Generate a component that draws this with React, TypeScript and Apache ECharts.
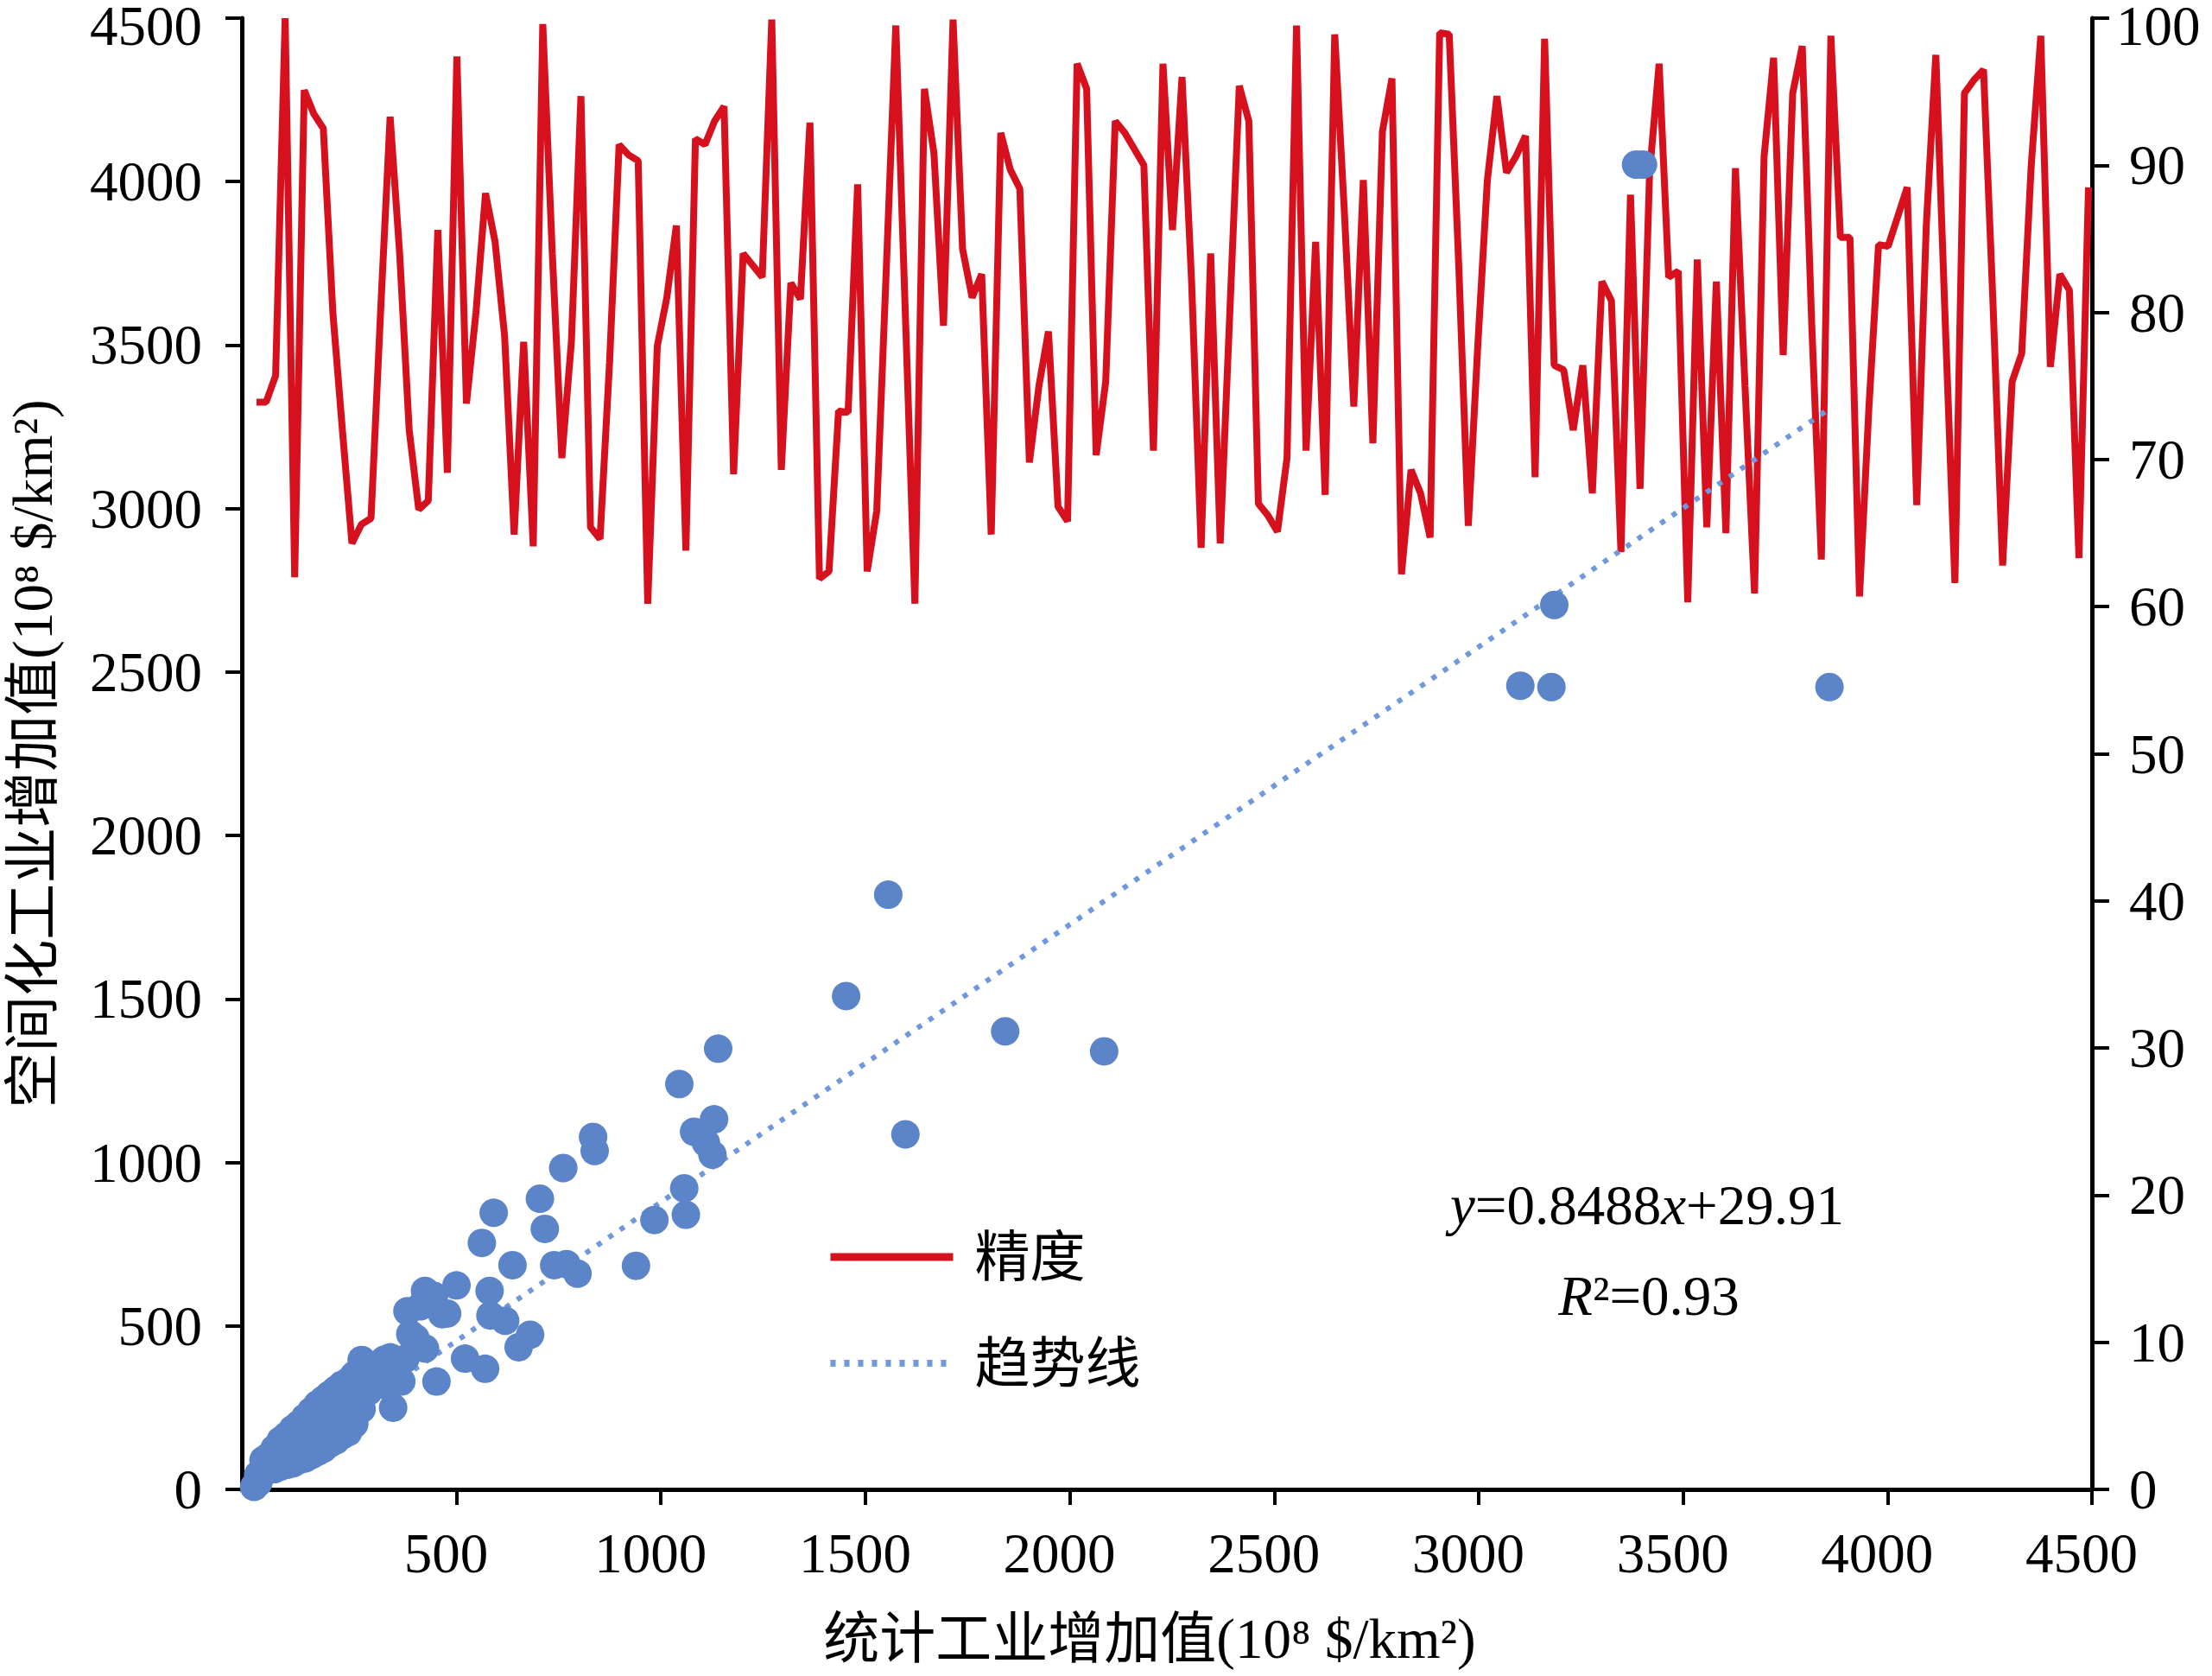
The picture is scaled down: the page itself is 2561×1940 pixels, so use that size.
import React, { useEffect, useRef } from "react";
import * as echarts from "echarts";

// 精度 (accuracy, right axis, %) — one value per region, evenly spaced
const accuracy = [
  73.9, 73.9, 75.7, 100, 62, 95.1, 93.5, 92.5, 80, 72, 64.3, 65.6, 66, 80, 93.3, 84, 72, 66.6, 67.2, 85.6,
  69.1, 97.4, 73.8, 80, 88.1, 84.8, 78.4, 64.9, 78, 64.1, 99.6, 84, 70.1, 78, 94.7,
  65.4, 64.6, 76.6, 91.4, 90.7, 90.3, 60.2, 77.7, 81, 85.9, 63.8, 91.8, 91.4, 93, 94, 69, 84, 83.2, 82.4,
  99.9, 69.3, 82, 80.9, 92.9, 61.9, 62.4, 73.3, 73.2, 88.7, 62.4, 66.5, 82.9, 99.5, 79.9, 60.2, 95.2, 90.8,
  79.1, 99.9,
  84.3, 81, 82.6, 64.9, 92.2, 89.7, 88.4, 69.8, 75, 78.7, 66.8, 65.8, 96.9, 95.2, 70.3, 75.3, 93, 92.2, 91.1,
  90, 70.6, 96.9, 85.6, 96, 82.1, 64, 84, 64.3, 79.9, 95.4, 93, 67, 66.2, 65.1, 70.1, 99.5, 70.6, 84.8, 67.6,
  98.9, 87, 73.6,
  89, 71.1, 92.3, 95.9, 62.2, 69.3, 67.7, 64.7, 99, 98.9, 83.2, 65.5, 77.8, 89, 94.7, 89.5, 90.6, 92, 68.8,
  98.6, 76.4, 76.1, 72, 76.4, 67.7, 82.1, 80.8, 63.7, 88, 68, 89.5, 96.9, 82.4, 82.8, 60.3, 83.6, 65.4,
  82.1, 65, 89.8, 75, 60.9, 90.6, 97.3, 77.1, 94.9, 98.1, 79.1, 63.2, 98.8, 85.1, 85.1, 60.7, 73.7, 84.6,
  84.5, 86.5, 88.5, 66.9, 85.9, 97.5, 79.1, 61.6, 94.9, 95.8, 96.5, 80.5, 62.8, 75.3, 77.2, 90, 98.8, 76.3,
  82.6, 81.5, 63.3, 88.5,
];

// [统计工业增加值, 空间化工业增加值] per region
const scatterPoints = [
  [5, 8], [15, 20], [15, 45], [28, 50], [28, 90], [40, 60], [40, 100], [55, 62], [55, 95], [55, 125],
  [70, 70], [70, 110], [70, 150], [85, 75], [85, 120], [85, 165], [100, 80], [100, 130], [100, 185],
  [115, 90], [115, 145], [115, 200], [130, 95], [130, 160], [130, 220], [145, 105], [145, 175], [145, 240],
  [160, 115], [160, 190], [160, 260], [175, 125], [175, 205], [175, 275], [190, 140], [190, 220], [190, 290],
  [205, 150], [205, 235], [205, 305], [220, 165], [220, 250], [220, 320], [235, 175], [235, 330],
  [250, 200], [250, 280], [250, 350], [268, 246], [268, 396], [268, 330], [285, 300], [285, 380],
  [300, 380], [324, 320], [324, 397], [338, 404], [345, 250], [365, 330], [375, 400], [380, 545],
  [387, 475], [423, 607], [423, 431], [451, 330], [465, 536], [500, 624], [412, 560], [400, 462],
  [445, 592], [477, 538], [521, 400], [570, 369], [583, 532], [619, 516], [581, 607], [652, 435],
  [680, 473], [562, 754], [591, 846], [637, 686], [716, 797], [704, 889], [739, 686], [769, 689],
  [796, 660], [761, 983], [834, 1078], [838, 1035], [939, 684], [984, 824], [1061, 840], [1057, 921],
  [1045, 1240], [1140, 1348], [1130, 1132], [1081, 1094], [1126, 1024], [1110, 1060], [1453, 1509],
  [1556, 1819], [1598, 1086], [1842, 1401], [2084, 1340], [3102, 2458], [3178, 2454], [3185, 2705],
  [3385, 4052], [3402, 4052], [3858, 2454],
];

// 趋势线 end points
const trendX = [5, 3858];
const trendY = [34, 3305];

const xTickValues = [500, 1000, 1500, 2000, 2500, 3000, 3500, 4000, 4500];

export default function App() {
  const ref = useRef<HTMLDivElement>(null);

  useEffect(() => {
    document.body.style.margin = "0";
    document.body.style.overflow = "hidden";
    const chart = echarts.init(ref.current as HTMLDivElement, null, { renderer: "svg" });
    const font = "'Liberation Serif', 'Noto Sans CJK SC', serif";

    const n = accuracy.length;
    const step = (2418 - 297) / (n - 1);
    const idxMin = -(297 - 280) / step;
    const idxMax = n - 1 + (2422 - 2418) / step;

    const axisLine = { show: true, onZero: false, lineStyle: { color: "#000", width: 5 } };
    const tickStyle = { color: "#000", width: 4 };
    const labelBase = { color: "#000", fontSize: 65, fontFamily: font };
    const nameStyle = { color: "#000", fontSize: 65, fontFamily: font };
    const tok = { color: "#000", fontSize: 65, fontFamily: font, lineHeight: 72 };
    const spacer = { fontSize: 2, lineHeight: 18 };

    chart.setOption({
      animation: false,
      backgroundColor: "#ffffff",
      textStyle: { fontFamily: font, color: "#000" },
      grid: { left: 280, right: 139, top: 21, bottom: 216, containLabel: false, outerBoundsMode: "none" },
      xAxis: [
        {
          type: "value",
          min: -25,
          max: 4500,
          position: "bottom",
          axisLine,
          axisTick: { show: true, customValues: xTickValues, length: 18, lineStyle: tickStyle },
          axisLabel: {
            ...labelBase,
            customValues: xTickValues,
            margin: 38,
            formatter: (v: number) => `{a|${v}}`,
            rich: { a: { ...tok, padding: [0, 24, 0, 0] } },
          },
          splitLine: { show: false },
          name: "统计工业增加值(10⁸ $/km²)",
          nameLocation: "middle",
          nameGap: 140,
          nameTextStyle: { ...nameStyle, padding: [0, 40, 0, 0] },
        },
        { type: "value", min: idxMin, max: idxMax, show: false },
      ],
      yAxis: [
        {
          type: "value",
          min: 0,
          max: 4500,
          interval: 500,
          position: "left",
          axisLine,
          axisTick: { show: true, length: 19, lineStyle: tickStyle },
          axisLabel: {
            ...labelBase,
            margin: 46,
            formatter: (v: number) => (v === 4500 ? `{s| }\n{t|${v}}` : `${v}`),
            rich: { s: spacer, t: tok },
          },
          splitLine: { show: false },
          name: "空间化工业增加值(10⁸ $/km²)",
          nameLocation: "middle",
          nameGap: 210,
          nameTextStyle: nameStyle,
        },
        {
          type: "value",
          min: 0,
          max: 100,
          interval: 10,
          position: "right",
          axisLine,
          axisTick: { show: true, length: 20, lineStyle: tickStyle },
          axisLabel: {
            ...labelBase,
            margin: 28,
            formatter: (v: number) => (v === 100 ? `{s| }\n{t|${v}}` : `{r|${v}}`),
            rich: {
              s: spacer,
              t: tok,
              r: { ...tok, padding: [0, 0, 0, 15] },
            },
          },
          splitLine: { show: false },
        },
      ],
      legend: {
        orient: "vertical",
        left: 952,
        top: 1415,
        itemWidth: 142,
        itemHeight: 20,
        itemGap: 53,
        selectedMode: false,
        itemStyle: { opacity: 0 },
        data: [
          { name: "精度", lineStyle: { width: 9 } },
          { name: "趋势线", lineStyle: { width: 8 } },
        ],
        textStyle: { fontSize: 64, lineHeight: 70, color: "#000", fontFamily: font, padding: [0, 0, 0, 20] },
      },
      graphic: [
        {
          type: "text",
          x: 1907,
          y: 1395,
          style: {
            text: "{i|y}{n|=0.8488}{i|x}{n|+29.91}",
            align: "center",
            verticalAlign: "middle",
            rich: {
              i: { fontStyle: "italic", fontSize: 65, fontFamily: font, fill: "#000", color: "#000" },
              n: { fontSize: 65, fontFamily: font, fill: "#000", color: "#000" },
            },
          },
        },
        {
          type: "text",
          x: 1909,
          y: 1500,
          style: {
            text: "{i|R}{n|²=0.93}",
            align: "center",
            verticalAlign: "middle",
            rich: {
              i: { fontStyle: "italic", fontSize: 65, fontFamily: font, fill: "#000", color: "#000" },
              n: { fontSize: 65, fontFamily: font, fill: "#000", color: "#000" },
            },
          },
        },
      ],
      series: [
        {
          name: "精度",
          type: "line",
          xAxisIndex: 1,
          yAxisIndex: 1,
          data: accuracy.map((v, i) => [i, v]),
          symbol: "none",
          lineStyle: { color: "#d6101c", width: 8 },
          itemStyle: { color: "#d6101c" },
          z: 2,
          silent: true,
        },
        {
          name: "趋势线",
          type: "line",
          xAxisIndex: 0,
          yAxisIndex: 0,
          data: trendX.map((x, i) => [x, trendY[i]]),
          symbol: "none",
          lineStyle: { color: "#7098dc", width: 6, type: [6, 10] },
          itemStyle: { color: "#7098dc" },
          z: 3,
          silent: true,
        },
        {
          name: "空间化",
          type: "scatter",
          xAxisIndex: 0,
          yAxisIndex: 0,
          data: scatterPoints,
          symbolSize: 33,
          itemStyle: { color: "#5b85c8", opacity: 1 },
          z: 4,
          silent: true,
        },
      ],
    });

    return () => chart.dispose();
  }, []);

  return <div ref={ref} style={{ width: 2561, height: 1940 }} />;
}
